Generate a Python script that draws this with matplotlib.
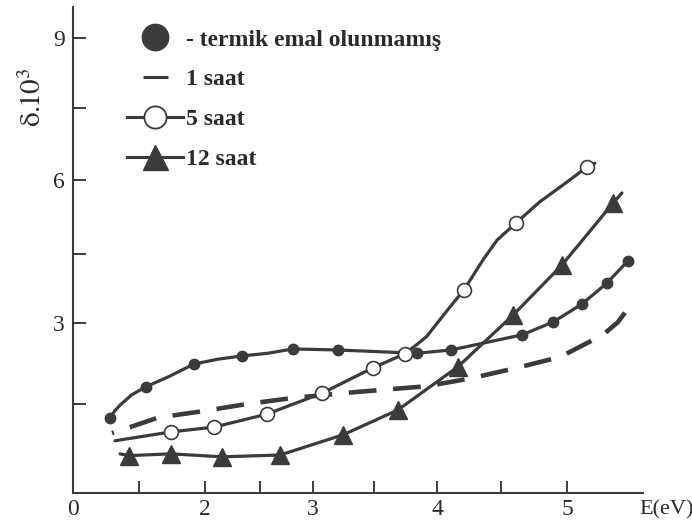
import numpy as np
import matplotlib
matplotlib.use("Agg")
import matplotlib.pyplot as plt
from matplotlib.lines import Line2D

plt.rcParams['font.family'] = ['Liberation Serif', 'DejaVu Serif']
plt.rcParams['lines.scale_dashes'] = False
plt.rcParams['mathtext.fontset'] = 'stix'

# ---------------- data ----------------
# termik emal olunmamis (filled circles)
e_raw = [0.561, 1.106, 1.833, 2.336, 2.811, 3.205, 3.841, 4.109, 4.659, 4.894, 5.115, 5.308, 5.469]
d_raw = [1.26, 1.82, 2.24, 2.39, 2.52, 2.50, 2.44, 2.50, 2.78, 3.02, 3.41, 3.87, 4.35]
e_raw_curve = [0.63, 0.712, 0.889, 1.439, 2.118, 2.575]
d_raw_curve = [1.38, 1.48, 1.67, 2.00, 2.33, 2.44]

# 1 saat (dashed line, no markers)
e_1h = [0.591, 0.864, 1.288, 1.970, 2.382, 2.802, 3.344, 3.921, 4.273, 4.621, 4.947, 5.277, 5.392, 5.508]
d_1h = [1.01, 1.11, 1.27, 1.38, 1.50, 1.61, 1.72, 1.83, 1.98, 2.17, 2.37, 2.78, 3.02, 3.46]

# 5 saat (open circles)
e_5h = [1.485, 2.082, 2.566, 3.074, 3.492, 3.746, 4.211, 4.614, 5.154]
d_5h = [1.03, 1.11, 1.33, 1.70, 2.17, 2.43, 3.72, 5.13, 6.27]
e_5h_curve = [0.636, 3.84, 3.918, 4.102, 4.359, 4.469, 4.795, 4.970, 5.215]
d_5h_curve = [0.88, 2.60, 2.75, 3.35, 4.37, 4.78, 5.56, 5.90, 6.35]

# 12 saat (triangles)
e_12h = [0.848, 1.485, 2.155, 2.689, 3.246, 3.690, 4.164, 4.591, 4.962, 5.354]
d_12h = [0.63, 0.66, 0.61, 0.64, 0.98, 1.40, 2.19, 3.17, 4.26, 5.53]
e_12h_curve = [0.712, 5.423]
d_12h_curve = [0.66, 5.737]

labels = ["- termik emal olunmamış", "1 saat", "5 saat", "12 saat"]
x_ticks = [0, 1, 2, 2.5, 3, 3.5, 4, 4.5, 5]
x_ticklabels = ["0", "", "2", "", "3", "", "4", "", "5"]
y_ticks = [0, 1.5, 3, 4.5, 6, 7.5, 9]
y_ticklabels = ["", "", "3", "", "6", "", "9"]

# ---------------- hand-drawn (non-uniform) axis scales ----------------
XK = np.array([-10, 0, 1, 2, 2.5, 3, 3.5, 4, 4.5, 5, 20])
XP = np.array([73 - 660, 73, 139, 205, 260, 313, 374, 437, 501, 567, 567 + 15 * 130], float)
YK = np.array([-10, 0, 1.5, 3, 4.5, 6, 7.5, 9, 30])
YP = np.array([-593, 0, 89, 170, 239, 313, 385, 455, 455 + 21 * 46.7], float)

def xf(v): return np.interp(v, XK, XP)
def xi(p): return np.interp(p, XP, XK)
def yf(v): return np.interp(v, YK, YP)
def yi(p): return np.interp(p, YP, YK)

C = '#3b3b3b'
TC = '#2a2a2a'
W, H = 692, 526
fig = plt.figure(figsize=(W / 100, H / 100), dpi=100)
ax = fig.add_axes([73 / W, 1 - 493 / H, (643 - 73) / W, (493 - 7) / H])
ax.set_xscale('function', functions=(xf, xi))
ax.set_yscale('function', functions=(yf, yi))
ax.set_xlim(0, 5.585)
ax.set_ylim(0, 9.664)

def curve(e_m, d_m, e_x, d_x):
    e = np.concatenate([e_m, e_x]); d = np.concatenate([d_m, d_x])
    o = np.argsort(e)
    return e[o], d[o]

# filled circles series
ce, cd = curve(e_raw, d_raw, e_raw_curve, d_raw_curve)
ax.plot(ce, cd, color=C, lw=2.3, zorder=2, solid_capstyle='round', solid_joinstyle='round')
ax.plot(e_raw, d_raw, ls='none', marker='o', ms=7.5, color=C, zorder=4)

# dashed 1 saat
ax.plot(e_1h, d_1h, color=C, lw=3.3, ls=(18.5, (20, 12)), zorder=2)

# 5 saat
ce, cd = curve(e_5h, d_5h, e_5h_curve, d_5h_curve)
ax.plot(ce, cd, color=C, lw=2.3, zorder=2, solid_capstyle='round', solid_joinstyle='round')
ax.plot(e_5h, d_5h, ls='none', marker='o', ms=10, mfc='white', mec=C, mew=1.2, zorder=5)

# 12 saat
ce, cd = curve(e_12h, d_12h, e_12h_curve, d_12h_curve)
ax.plot(ce, cd, color=C, lw=2.3, zorder=2, solid_capstyle='round', solid_joinstyle='round')
ax.plot(e_12h, d_12h, ls='none', marker='^', ms=13, color=C, zorder=4)

# axes styling
for s in ['top', 'right']:
    ax.spines[s].set_visible(False)
for s in ['left', 'bottom']:
    ax.spines[s].set_linewidth(1.5)
    ax.spines[s].set_color(C)
ax.set_xticks(x_ticks)
ax.set_xticklabels(x_ticklabels)
ax.set_yticks(y_ticks)
ax.set_yticklabels(y_ticklabels)
ax.xaxis.set_minor_locator(matplotlib.ticker.NullLocator())
ax.yaxis.set_minor_locator(matplotlib.ticker.NullLocator())
ax.tick_params(direction='in', length=9, width=1.4, color=C, labelsize=17,
               labelcolor=TC)
ax.tick_params(axis='y', pad=6)
ax.tick_params(axis='x', pad=4)

fig.text(33 / W, 1 - 97 / H, r"$\mathrm{\delta.\!\!10^3}$", rotation=90, ha='center',
         va='center', fontsize=21, color=TC)
fig.text(639 / W, 1 - 510 / H, "E(eV)", ha='left', va='center', fontsize=16,
         color=TC)

# legend
h1 = Line2D([], [], ls='none', marker='o', ms=19, color=C)
h2 = Line2D([], [], ls='none', marker='_', ms=18, mew=2.2, color=C)
h3 = Line2D([], [], ls='-', lw=2.2, color=C, marker='o', ms=16, mfc='white', mec=C, mew=1.3)
h4 = Line2D([], [], ls='-', lw=2.2, color=C, marker='^', ms=18)
ax.legend([h1, h2, h3, h4], labels, loc='upper left',
          bbox_to_anchor=(127 / W, 1 - 29 / H), bbox_transform=fig.transFigure,
          frameon=False, borderpad=0, borderaxespad=0, handlelength=2.37,
          handletextpad=0.15, labelspacing=0.78, numpoints=1,
          prop={'family': 'Liberation Serif', 'weight': 'bold', 'size': 17},
          labelcolor=TC)

fig.savefig("out.png", dpi=100)
